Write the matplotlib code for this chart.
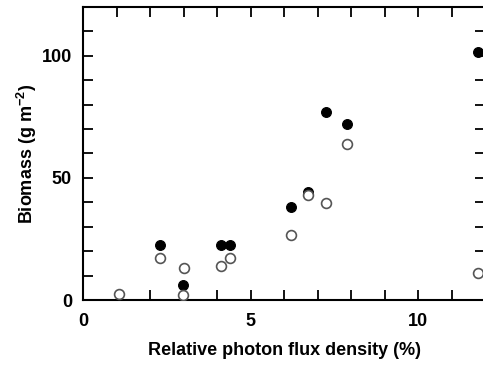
import matplotlib
matplotlib.use("Agg")
import matplotlib.pyplot as plt
from matplotlib.ticker import MultipleLocator

plt.rcParams['font.family'] = ['Liberation Sans', 'DejaVu Sans']
plt.rcParams['mathtext.fontset'] = 'custom'
plt.rcParams['mathtext.bf'] = 'Liberation Sans:bold'
plt.rcParams['mathtext.rm'] = 'Liberation Sans:bold'
plt.rcParams['mathtext.default'] = 'bf'

# total biomass (filled) and leaf/other fraction (open)
x_filled = [2.28, 2.99, 4.10, 4.37, 6.21, 6.72, 7.26, 7.87, 11.79]
y_filled = [22.4, 6.0, 22.5, 22.5, 38.2, 44.4, 77.0, 71.9, 101.4]

x_open = [1.07, 2.28, 3.02, 2.99, 4.11, 4.37, 6.21, 6.72, 7.26, 7.87, 11.79]
y_open = [2.5, 17.2, 13.1, 2.2, 13.8, 17.2, 26.8, 42.8, 39.6, 63.7, 11.1]

fig = plt.figure(figsize=(4.83, 3.65), dpi=100)
ax = fig.add_axes([0.172, 0.178, 0.833, 0.803])

ax.scatter(x_filled, y_filled, s=50, c='black', edgecolors='black', linewidths=0.8, zorder=3)
ax.scatter(x_open, y_open, s=50, facecolors='white', edgecolors='#555555', linewidths=1.2, zorder=4)

ax.set_xlim(0, 12)
ax.set_ylim(0, 120)
ax.xaxis.set_major_locator(MultipleLocator(5))
ax.xaxis.set_minor_locator(MultipleLocator(1))
ax.yaxis.set_major_locator(MultipleLocator(50))
ax.yaxis.set_minor_locator(MultipleLocator(10))

for s in ax.spines.values():
    s.set_linewidth(1.5)

ax.tick_params(which='both', direction='in', top=True, right=True, length=7, width=1.3,
               labelsize=13)
ax.tick_params(axis='x', which='major', pad=9)
ax.tick_params(axis='y', which='major', pad=8)
for lab in ax.get_xticklabels() + ax.get_yticklabels():
    lab.set_fontweight('bold')

ax.set_xlabel("Relative photon flux density (%)", fontsize=13, fontweight='bold', labelpad=9)
ax.set_ylabel("Biomass (g m$^{-2}$)", fontsize=13, fontweight='bold', labelpad=2)

fig.savefig("out.png", dpi=100)
